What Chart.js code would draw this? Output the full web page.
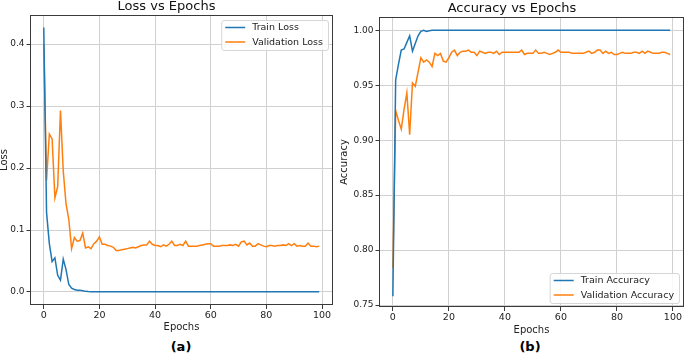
<!DOCTYPE html>
<html>
<head>
<meta charset="utf-8">
<script src="https://cdn.jsdelivr.net/npm/chart.js@4.4.1/dist/chart.umd.min.js"></script>
<style>
    body { margin: 0; background: #fff; width: 685px; height: 355px; overflow: hidden; position: relative; font-family: "DejaVu Sans", sans-serif; }
    #lossWrap { position: absolute; left: 0; top: 0; width: 340px; height: 335px; }
    #accWrap { position: absolute; left: 340px; top: 0; width: 345px; height: 338px; }
    .panel { position: absolute; top: 339px; font-weight: bold; font-size: 13px; width: 40px; text-align: center; color: #000; }
</style>
</head>
<body>
<div id="lossWrap"><canvas id="lossChart" width="340" height="335"></canvas></div>
<div id="accWrap"><canvas id="accChart" width="345" height="338"></canvas></div>
<div class="panel" style="left: 161px;">(a)</div>
<div class="panel" style="left: 510px;">(b)</div>
<script>
// epochs 0..99
const epochs = Array.from({ length: 100 }, (_, i) => i);

const trainLoss = [
    0.427, 0.128, 0.078, 0.049, 0.055, 0.027, 0.019, 0.053, 0.036, 0.012,
    0.006, 0.004, 0.003, 0.003, 0.002, 0.001, 0.0007, 0.0005, 0.0004, 0.0004,
    0.0004, 0.0003, 0.0003, 0.0003, 0.0003, 0.0003, 0.0003, 0.0002, 0.0002, 0.0002,
    0.0002, 0.0002, 0.0002, 0.0002, 0.0002, 0.0002, 0.0002, 0.0002, 0.0002, 0.0002,
    0.0002, 0.0002, 0.0002, 0.0002, 0.0002, 0.0002, 0.0002, 0.0002, 0.0002, 0.0002,
    0.0002, 0.0002, 0.0002, 0.0003, 0.0003, 0.0002, 0.0002, 0.0002, 0.0002, 0.0002,
    0.0002, 0.0002, 0.0002, 0.0002, 0.0002, 0.0002, 0.0002, 0.0002, 0.0002, 0.0002,
    0.0002, 0.0002, 0.0002, 0.0002, 0.0002, 0.0002, 0.0002, 0.0002, 0.0002, 0.0002,
    0.0002, 0.0002, 0.0002, 0.0002, 0.0002, 0.0003, 0.0002, 0.0002, 0.0002, 0.0002,
    0.0002, 0.0002, 0.0002, 0.0002, 0.0002, 0.0002, 0.0002, 0.0002, 0.0002, 0.0002
];
const valLoss = [
    0.400, 0.180, 0.255, 0.247, 0.152, 0.170, 0.293, 0.195, 0.142, 0.117,
    0.070, 0.088, 0.082, 0.083, 0.095, 0.071, 0.073, 0.070, 0.078, 0.082,
    0.089, 0.077, 0.077, 0.075, 0.074, 0.072, 0.067, 0.067, 0.068, 0.069,
    0.070, 0.071, 0.072, 0.071, 0.073, 0.075, 0.076, 0.076, 0.082, 0.077,
    0.075, 0.075, 0.073, 0.076, 0.074, 0.077, 0.082, 0.075, 0.075, 0.077,
    0.075, 0.082, 0.074, 0.074, 0.074, 0.074, 0.075, 0.076, 0.077, 0.078,
    0.078, 0.074, 0.074, 0.074, 0.075, 0.075, 0.075, 0.076, 0.075, 0.077,
    0.074, 0.081, 0.082, 0.076, 0.079, 0.074, 0.074, 0.078, 0.076, 0.074,
    0.073, 0.075, 0.075, 0.074, 0.075, 0.075, 0.076, 0.075, 0.078, 0.075,
    0.078, 0.074, 0.075, 0.074, 0.074, 0.079, 0.074, 0.074, 0.073, 0.074
];
const trainAcc = [
    0.758, 0.955, 0.969, 0.982, 0.983, 0.989, 0.995, 0.981, 0.988, 0.995,
    0.999, 1.000, 0.999, 0.9995, 1.000, 1.000, 1.000, 1.000, 1.000, 1.000,
    1.000, 1.000, 1.000, 1.000, 1.000, 1.000, 1.000, 1.000, 1.000, 1.000,
    1.000, 1.000, 1.000, 1.000, 1.000, 1.000, 1.000, 1.000, 1.000, 1.000,
    1.000, 1.000, 1.000, 1.000, 1.000, 1.000, 1.000, 1.000, 1.000, 1.000,
    1.000, 1.000, 1.000, 1.000, 1.000, 1.000, 1.000, 1.000, 1.000, 1.000,
    1.000, 1.000, 1.000, 1.000, 1.000, 1.000, 1.000, 1.000, 1.000, 1.000,
    1.000, 1.000, 1.000, 1.000, 1.000, 1.000, 1.000, 1.000, 1.000, 1.000,
    1.000, 1.000, 1.000, 1.000, 1.000, 1.000, 1.000, 1.000, 1.000, 1.000,
    1.000, 1.000, 1.000, 1.000, 1.000, 1.000, 1.000, 1.000, 1.000, 1.000
];
const valAcc = [
    0.784, 0.927, 0.918, 0.910, 0.928, 0.943, 0.905, 0.952, 0.949, 0.962,
    0.975, 0.971, 0.973, 0.971, 0.967, 0.979, 0.977, 0.979, 0.972, 0.971,
    0.975, 0.980, 0.982, 0.977, 0.980, 0.981, 0.981, 0.982, 0.980, 0.980,
    0.977, 0.981, 0.980, 0.979, 0.980, 0.980, 0.979, 0.981, 0.978, 0.980,
    0.980, 0.980, 0.980, 0.980, 0.980, 0.980, 0.982, 0.978, 0.979, 0.979,
    0.979, 0.982, 0.979, 0.979, 0.980, 0.979, 0.978, 0.979, 0.980, 0.982,
    0.980, 0.980, 0.980, 0.980, 0.979, 0.979, 0.979, 0.979, 0.979, 0.980,
    0.981, 0.979, 0.980, 0.982, 0.982, 0.979, 0.981, 0.979, 0.980, 0.978,
    0.978, 0.979, 0.980, 0.979, 0.979, 0.979, 0.980, 0.980, 0.979, 0.981,
    0.979, 0.981, 0.980, 0.979, 0.979, 0.979, 0.980, 0.980, 0.979, 0.978
];

const epochTicks = [0, 20, 40, 60, 80, 100];
const lossTicks = [0.0, 0.1, 0.2, 0.3, 0.4];
const accTicks = [0.75, 0.80, 0.85, 0.90, 0.95, 1.00];

const BLUE = '#1f77b4';
const ORANGE = '#ff7f0e';
const GRID = '#d0d0d0';
const AXIS = '#3a3a3a';

Chart.defaults.font.family = '"DejaVu Sans", sans-serif';
Chart.defaults.color = '#222';

function toPoints(values) {
    return values.map((v, i) => ({ x: epochs[i], y: v }));
}

function lineSet(label, values, color) {
    return {
        label: label,
        data: toPoints(values),
        borderColor: color,
        backgroundColor: color,
        borderWidth: 1.5,
        pointRadius: 0,
        tension: 0
    };
}

// box around the plot area, like matplotlib spines
const framePlugin = {
    id: 'frame',
    afterDraw(chart) {
        const a = chart.chartArea;
        const ctx = chart.ctx;
        ctx.save();
        ctx.strokeStyle = AXIS;
        ctx.lineWidth = 1;
        ctx.strokeRect(Math.round(a.left) + 0.5, Math.round(a.top) + 0.5,
            Math.round(a.right - a.left) - 1, Math.round(a.bottom - a.top) - 1);
        ctx.restore();
    }
};

// legend drawn inside the plot area
const boxLegendPlugin = {
    id: 'boxLegend',
    afterDraw(chart, args, opts) {
        const a = chart.chartArea;
        const ctx = chart.ctx;
        const labels = chart.data.datasets.map(d => d.label);
        ctx.save();
        ctx.font = '9.5px "DejaVu Sans"';
        const textW = Math.max(...labels.map(l => ctx.measureText(l).width));
        const w = textW + 36;
        const h = 30;
        const x = a.right - 5 - w;
        const y = opts.corner === 'top' ? a.top + 5 : a.bottom - 4 - h;
        ctx.beginPath();
        ctx.roundRect(x + 0.5, y + 0.5, w, h, 2.5);
        ctx.fillStyle = 'rgba(255,255,255,0.85)';
        ctx.fill();
        ctx.strokeStyle = '#d6d6d6';
        ctx.lineWidth = 1;
        ctx.stroke();
        chart.data.datasets.forEach((d, i) => {
            const ry = y + 7.5 + i * 14.5;
            ctx.beginPath();
            ctx.moveTo(x + 4, ry);
            ctx.lineTo(x + 24, ry);
            ctx.strokeStyle = d.borderColor;
            ctx.lineWidth = 1.5;
            ctx.stroke();
            ctx.fillStyle = '#222';
            ctx.textBaseline = 'middle';
            ctx.textAlign = 'left';
            ctx.fillText(d.label, x + 31, ry + 0.5);
        });
        ctx.restore();
    }
};

function makeScales(cfg) {
    return {
        x: {
            type: 'linear',
            min: -4.95,
            max: 103.95,
            afterBuildTicks: (s) => { s.ticks = epochTicks.map(v => ({ value: v })); },
            afterFit: (s) => { s.height = cfg.xHeight; },
            ticks: { font: { size: 9.5 }, padding: 1, maxRotation: 0, color: '#222', callback: (v) => String(v) },
            grid: { color: GRID, lineWidth: 1, tickColor: AXIS, tickLength: 4 },
            border: { display: false },
            title: { display: true, text: 'Epochs', font: { size: 10 }, color: '#222', padding: { top: 0, bottom: 2 } }
        },
        y: {
            type: 'linear',
            min: cfg.yMin,
            max: cfg.yMax,
            afterBuildTicks: (s) => { s.ticks = cfg.yTicks.map(v => ({ value: v })); },
            afterFit: (s) => { s.width = cfg.yWidth; },
            ticks: { font: { size: 9 }, padding: 2, color: '#222', callback: (v) => Number(v).toFixed(cfg.decimals) },
            grid: { color: GRID, lineWidth: 1, tickColor: AXIS, tickLength: 3.5 },
            border: { display: false },
            title: { display: true, text: cfg.yTitle, font: { size: 10, lineHeight: 0.9 }, color: '#222', padding: { top: 0, bottom: 0 } }
        }
    };
}

new Chart(document.getElementById('lossChart').getContext('2d'), {
    type: 'line',
    data: {
        datasets: [
            lineSet('Train Loss', trainLoss, BLUE),
            lineSet('Validation Loss', valLoss, ORANGE)
        ]
    },
    options: {
        responsive: false,
        animation: false,
        devicePixelRatio: 1,
        layout: { padding: { left: 0, right: 7, top: 0, bottom: 0 } },
        plugins: {
            legend: { display: false },
            tooltip: { enabled: false },
            title: { display: true, text: 'Loss vs Epochs', color: '#111', font: { size: 13, weight: 'normal', lineHeight: 1 }, padding: { top: 0, bottom: 2 } },
            boxLegend: { corner: 'top' }
        },
        scales: makeScales({ yMin: -0.021, yMax: 0.447, yTicks: lossTicks, yTitle: 'Loss', yWidth: 30, xHeight: 30, decimals: 1 })
    },
    plugins: [framePlugin, boxLegendPlugin]
});

new Chart(document.getElementById('accChart').getContext('2d'), {
    type: 'line',
    data: {
        datasets: [
            lineSet('Train Accuracy', trainAcc, BLUE),
            lineSet('Validation Accuracy', valAcc, ORANGE)
        ]
    },
    options: {
        responsive: false,
        animation: false,
        devicePixelRatio: 1,
        layout: { padding: { left: 0, right: 1, top: 0, bottom: 0 } },
        plugins: {
            legend: { display: false },
            tooltip: { enabled: false },
            title: { display: true, text: 'Accuracy vs Epochs', color: '#111', font: { size: 13, weight: 'normal', lineHeight: 1 }, padding: { top: 2, bottom: 2 } },
            boxLegend: { corner: 'bottom' }
        },
        scales: makeScales({ yMin: 0.7482, yMax: 1.0121, yTicks: accTicks, yTitle: 'Accuracy', yWidth: 39, xHeight: 31, decimals: 2 })
    },
    plugins: [framePlugin, boxLegendPlugin]
});
</script>
</body>
</html>
